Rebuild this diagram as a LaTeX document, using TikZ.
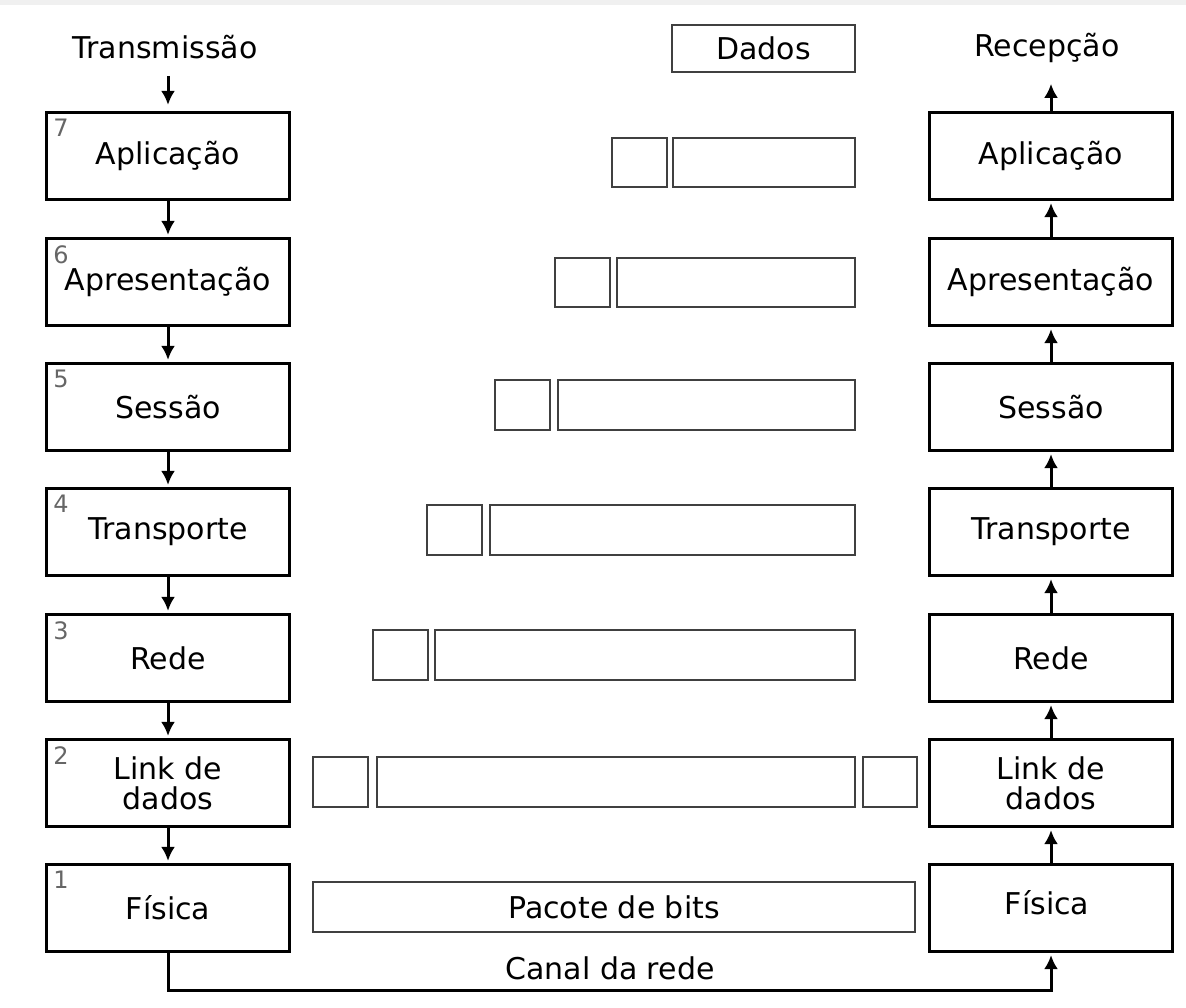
\documentclass[tikz,border=0pt]{standalone}
\usepackage{fontspec}
\setmainfont{DejaVu Sans}
\usetikzlibrary{positioning,arrows.meta}

\tikzset{
  layer/.style={draw, line width=1.6pt, minimum width=121.5pt, minimum height=43.5pt,
    inner sep=0pt, align=center, font=\fontsize{15}{15}\selectfont},
  num/.style={anchor=north west, inner sep=0pt, text=black!60, font=\fontsize{12}{12}\selectfont},
  pkt/.style={draw=black!75, line width=1.3pt},
  lbl/.style={font=\fontsize{15}{15}\selectfont},
  flow/.style={line width=1.5pt, -{Latex[length=7pt,width=7pt]}, shorten >=1pt}
}

\begin{document}
\begin{tikzpicture}[x=0.5pt, y=-0.5pt]
\useasboundingbox (0,0) rectangle (1186,1007);
\fill[black!6] (0,0) rectangle (1186,5);

% transmissao
\node[lbl] (tx) at (165,47) {Transmissão};
\node[layer] (L7) at (168,156) {Aplicação};
\node[layer] (L6) at (168,282) {Apresentação};
\node[layer] (L5) at (168,407) {Sessão};
\node[layer] (L4) at (168,532) {Transporte};
\node[layer] (L3) at (168,658) {Rede};
\node[layer] (L2) at (168,783) {Link de\\dados};
\node[layer] (L1) at (168,908) {Física};
\node[num] at ([xshift=4pt,yshift=-4pt]L7.north west) {7};
\node[num] at ([xshift=4pt,yshift=-4pt]L6.north west) {6};
\node[num] at ([xshift=4pt,yshift=-4pt]L5.north west) {5};
\node[num] at ([xshift=4pt,yshift=-4pt]L4.north west) {4};
\node[num] at ([xshift=4pt,yshift=-4pt]L3.north west) {3};
\node[num] at ([xshift=4pt,yshift=-4pt]L2.north west) {2};
\node[num] at ([xshift=4pt,yshift=-4pt]L1.north west) {1};
\draw[flow, shorten <=5pt, shorten >=3pt] (tx.south -| L7.north) -- (L7.north);
\draw[flow] (L7) -- (L6);
\draw[flow] (L6) -- (L5);
\draw[flow] (L5) -- (L4);
\draw[flow] (L4) -- (L3);
\draw[flow] (L3) -- (L2);
\draw[flow] (L2) -- (L1);

% recepcao
\node[lbl] (rx) at (1047,48) {Recepção};
\node[layer] (R7) at (1051,156) {Aplicação};
\node[layer] (R6) at (1051,282) {Apresentação};
\node[layer] (R5) at (1051,407) {Sessão};
\node[layer] (R4) at (1051,532) {Transporte};
\node[layer] (R3) at (1051,658) {Rede};
\node[layer] (R2) at (1051,783) {Link de\\dados};
\node[layer] (R1) at (1051,908) {};
\node[lbl] (R1txt) at (1047,903) {Física};
\draw[flow] (R1) -- (R2);
\draw[flow] (R2) -- (R3);
\draw[flow] (R3) -- (R4);
\draw[flow] (R4) -- (R5);
\draw[flow] (R5) -- (R6);
\draw[flow] (R6) -- (R7);
\draw[flow, shorten >=7pt] (R7.north) -- (R7.north |- rx.south);

% canal
\coordinate (canal) at (610,990);
\node[lbl] (canaltxt) at (610,968) {Canal da rede};
\draw[flow, shorten >=1pt] (L1.south) |- (canal) -| (R1.south);

% pacotes
\draw[pkt] (672,25) rectangle (855,72);
\node[lbl] (dados) at (763.5,48.5) {Dados};
\draw[pkt] (612,138) rectangle (667,187);
\draw[pkt] (673,138) rectangle (855,187);
\draw[pkt] (555,258) rectangle (610,307);
\draw[pkt] (617,258) rectangle (855,307);
\draw[pkt] (495,380) rectangle (550,430);
\draw[pkt] (558,380) rectangle (855,430);
\draw[pkt] (427,505) rectangle (482,555);
\draw[pkt] (490,505) rectangle (855,555);
\draw[pkt] (373,630) rectangle (428,680);
\draw[pkt] (435,630) rectangle (855,680);
\draw[pkt] (313,757) rectangle (368,807);
\draw[pkt] (377,757) rectangle (855,807);
\draw[pkt] (863,757) rectangle (917,807);
\draw[pkt] (313,882) rectangle (915,932);
\node[lbl] (bits) at (614,907) {Pacote de bits};
\end{tikzpicture}
\end{document}
